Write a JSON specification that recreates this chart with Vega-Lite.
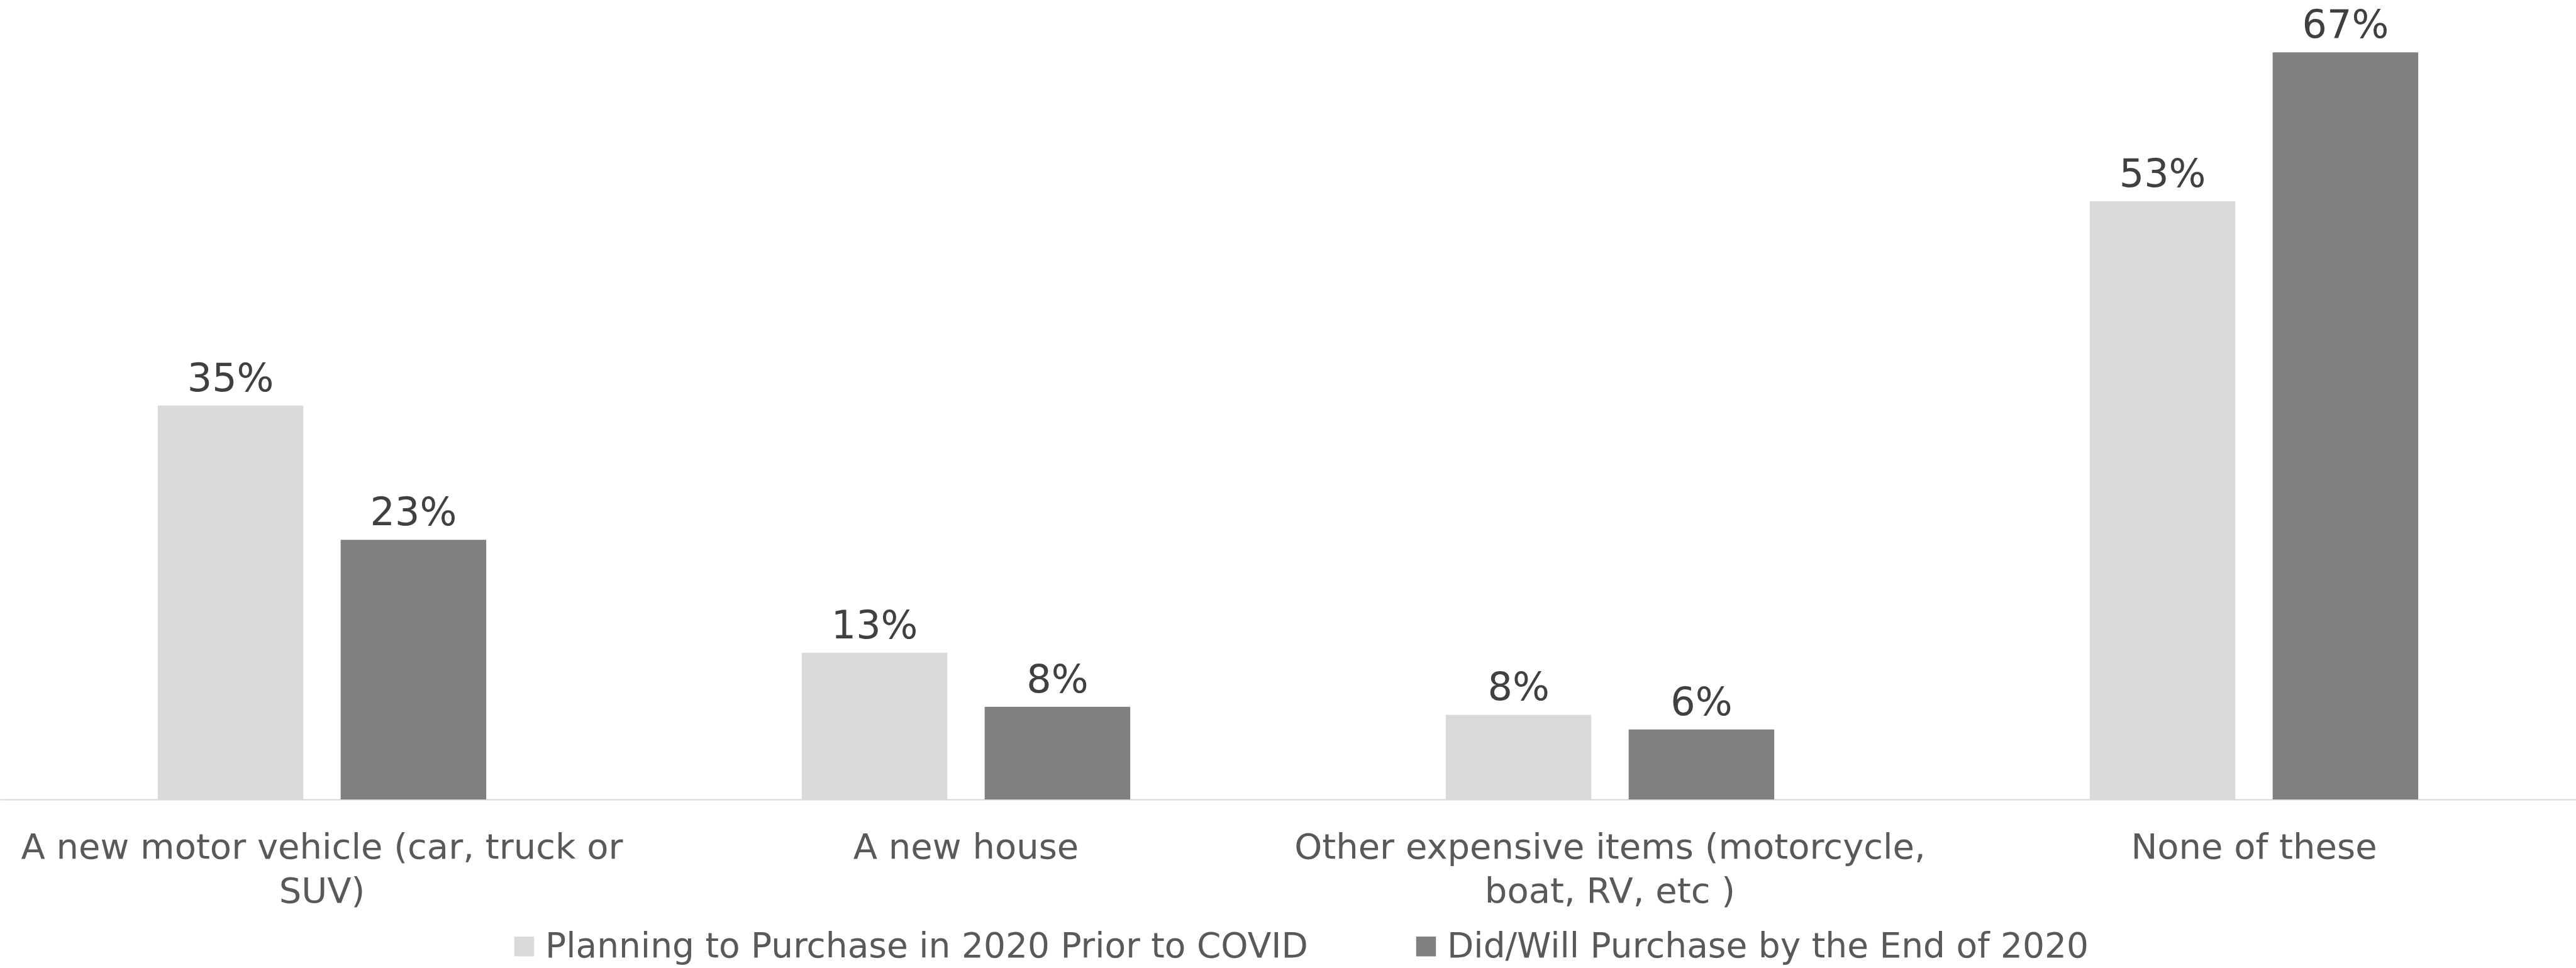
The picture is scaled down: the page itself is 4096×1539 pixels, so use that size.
{
  "$schema": "https://vega.github.io/schema/vega-lite/v6.json",
  "width": 4096,
  "height": 1256,
  "autosize": "none",
  "padding": {"top": 15, "left": 0, "right": 0, "bottom": 268},
  "background": "white",
  "config": {"view": {"stroke": null}, "font": "DejaVu Sans"},
  "data": {
    "values": [
      {"item": "A new motor vehicle (car, truck or SUV)", "series": "Planning to Purchase in 2020 Prior to COVID", "value": 34.9, "label": "35%"},
      {"item": "A new motor vehicle (car, truck or SUV)", "series": "Did/Will Purchase by the End of 2020", "value": 23.0, "label": "23%"},
      {"item": "A new house", "series": "Planning to Purchase in 2020 Prior to COVID", "value": 13.0, "label": "13%"},
      {"item": "A new house", "series": "Did/Will Purchase by the End of 2020", "value": 8.2, "label": "8%"},
      {"item": "Other expensive items (motorcycle, boat, RV, etc )", "series": "Planning to Purchase in 2020 Prior to COVID", "value": 7.5, "label": "8%"},
      {"item": "Other expensive items (motorcycle, boat, RV, etc )", "series": "Did/Will Purchase by the End of 2020", "value": 6.2, "label": "6%"},
      {"item": "None of these", "series": "Planning to Purchase in 2020 Prior to COVID", "value": 53.0, "label": "53%"},
      {"item": "None of these", "series": "Did/Will Purchase by the End of 2020", "value": 66.2, "label": "67%"}
    ]
  },
  "encoding": {
    "x": {
      "field": "item",
      "type": "nominal",
      "sort": null,
      "scale": {"paddingInner": 0.49, "paddingOuter": 0.245},
      "axis": {
        "title": null,
        "grid": false,
        "domain": true,
        "domainColor": "#D9D9D9",
        "domainWidth": 2,
        "ticks": false,
        "tickSize": 0,
        "labelPadding": 93,
        "labelBaseline": "alphabetic",
        "labelAngle": 0,
        "labelFont": "DejaVu Sans",
        "labelFontSize": 56,
        "labelColor": "#595959",
        "labelLineHeight": 70,
        "labelLimit": 3000,
        "labelOverlap": false,
        "labelExpr": "datum.value == 'A new motor vehicle (car, truck or SUV)' ? ['A new motor vehicle (car, truck or', 'SUV)'] : datum.value == 'Other expensive items (motorcycle, boat, RV, etc )' ? ['Other expensive items (motorcycle,', 'boat, RV, etc )'] : datum.label"
      }
    },
    "xOffset": {
      "field": "series",
      "type": "nominal",
      "sort": ["Planning to Purchase in 2020 Prior to COVID", "Did/Will Purchase by the End of 2020"],
      "scale": {"paddingInner": 0.204, "paddingOuter": 0}
    },
    "y": {
      "field": "value",
      "type": "quantitative",
      "scale": {"domain": [0, 70], "nice": false},
      "axis": null
    }
  },
  "layer": [
    {
      "mark": {"type": "bar"},
      "encoding": {
        "color": {
          "field": "series",
          "type": "nominal",
          "sort": ["Planning to Purchase in 2020 Prior to COVID", "Did/Will Purchase by the End of 2020"],
          "scale": {"domain": ["Planning to Purchase in 2020 Prior to COVID", "Did/Will Purchase by the End of 2020"], "range": ["#D9D9D9", "#808080"]},
          "legend": {
            "orient": "none",
            "legendX": 806,
            "legendY": 1462,
            "direction": "horizontal",
            "title": null,
            "symbolType": "square",
            "symbolSize": 990,
            "symbolStrokeWidth": 0,
            "symbolOpacity": 1,
            "labelFont": "DejaVu Sans",
            "labelFontSize": 55,
            "labelColor": "#595959",
            "labelOffset": 6,
            "columnPadding": 160,
            "labelLimit": 3000,
            "padding": 0
          }
        }
      }
    },
    {
      "mark": {"type": "text", "baseline": "alphabetic", "dy": -23, "fontSize": 62, "font": "DejaVu Sans", "color": "#404040"},
      "encoding": {"text": {"field": "label", "type": "nominal"}}
    }
  ]
}
